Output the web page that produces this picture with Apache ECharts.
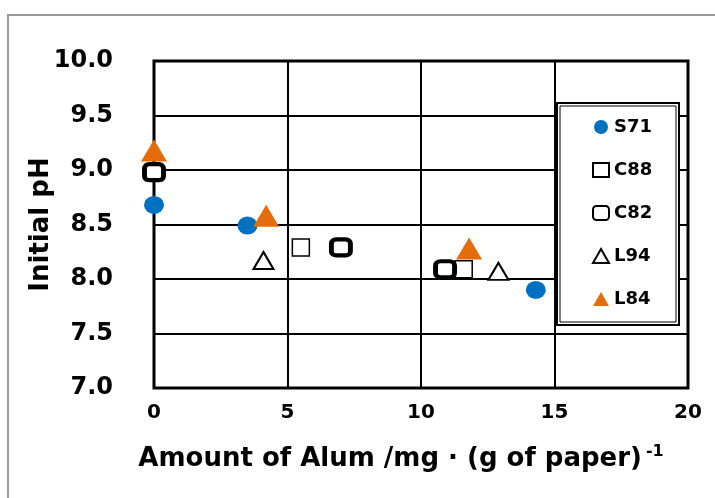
<!DOCTYPE html>
<html>
<head>
<meta charset="utf-8">
<script src="https://cdn.jsdelivr.net/npm/echarts@6/dist/echarts.min.js"></script>
<style>
  html, body { margin: 0; padding: 0; background: #fff; }
  #main { width: 715px; height: 498px; }
</style>
</head>
<body>
<div id="main"></div>
<script>
// values
var seriesNames = ['S71', 'C88', 'C82', 'L94', 'L84'];
var xS71 = [0, 3.5, 14.3];
var yS71 = [8.68, 8.49, 7.9];
var xC88 = [0, 5.5, 11.6];
var yC88 = [8.98, 8.29, 8.09];
var xC82 = [0, 7.0, 10.9];
var yC82 = [8.98, 8.29, 8.09];
var xL94 = [4.1, 12.9];
var yL94 = [8.17, 8.07];
var xL84 = [0, 4.2, 11.8];
var yL84 = [9.18, 8.58, 8.28];

function pairs(xs, ys) {
  return xs.map(function (x, i) { return [x, ys[i]]; });
}

var font = 'DejaVu Sans';
var chart = echarts.init(document.getElementById('main'));

var option = {
  animation: false,
  grid: { left: 154, right: 27, top: 61, bottom: 110, show: true, borderColor: '#000', borderWidth: 3, backgroundColor: '#fff' },
  graphic: [
    { type: 'rect', shape: { x: 8, y: 15, width: 800, height: 600 }, style: { fill: null, stroke: '#999', lineWidth: 2 }, z: -10 },
    { type: 'rect', shape: { x: 557, y: 103, width: 122, height: 222 }, style: { fill: '#fff', stroke: '#000', lineWidth: 2 }, z: 10 },
    { type: 'rect', shape: { x: 560, y: 106, width: 116, height: 216 }, style: { fill: null, stroke: '#000', lineWidth: 1 }, z: 11 }
  ],
  legend: {
    orient: 'vertical',
    left: 587,
    top: 113,
    itemWidth: 16,
    itemHeight: 14,
    itemGap: 25,
    z: 20,
    textStyle: { fontFamily: font, fontWeight: 'bold', fontSize: 18, color: '#000' },
    data: seriesNames
  },
  xAxis: {
    type: 'value', min: 0, max: 20, interval: 5,
    axisLine: { show: false },
    axisTick: { show: false },
    splitLine: { show: true, lineStyle: { color: '#000', width: 2 } },
    axisLabel: { fontFamily: font, fontWeight: 'bold', fontSize: 20, color: '#000', margin: 15 },
    name: 'Amount of Alum /mg · (g of paper){s|-1}',
    nameLocation: 'middle',
    nameGap: 56,
    nameMoveOverlap: false,
    nameTextStyle: {
      fontFamily: font, fontWeight: 'bold', fontSize: 26, color: '#000',
      padding: [0, 40, 0, 0],
      rich: { s: { fontFamily: font, fontWeight: 'bold', fontSize: 16, color: '#000', verticalAlign: 'top', padding: [0, 0, 14, 4] } }
    }
  },
  yAxis: {
    type: 'value', min: 7, max: 10, interval: 0.5,
    axisLine: { show: false },
    axisTick: { show: false },
    splitLine: { show: true, lineStyle: { color: '#000', width: 2 } },
    axisLabel: {
      fontFamily: font, fontWeight: 'bold', fontSize: 24, color: '#000', margin: 41,
      formatter: function (v) { return v.toFixed(1); }
    },
    name: 'Initial pH',
    nameLocation: 'middle',
    nameGap: 100,
    nameMoveOverlap: false,
    nameTextStyle: { fontFamily: font, fontWeight: 'bold', fontSize: 26, color: '#000' }
  },
  series: [
    { name: 'S71', type: 'scatter', symbol: 'circle', symbolSize: [20, 18],
      itemStyle: { color: '#0070C0', opacity: 1 }, data: pairs(xS71, yS71) },
    { name: 'C88', type: 'scatter', symbol: 'rect', symbolSize: [17, 17],
      itemStyle: { color: '#fff', borderColor: '#000', borderWidth: 1.5, opacity: 1 }, data: pairs(xC88, yC88) },
    { name: 'C82', type: 'scatter', symbol: 'roundRect', symbolSize: [19, 16],
      itemStyle: { color: '#fff', borderColor: '#000', borderWidth: 4.5, opacity: 1 }, data: pairs(xC82, yC82) },
    { name: 'L94', type: 'scatter', symbol: 'triangle', symbolSize: [20, 17],
      itemStyle: { color: '#fff', borderColor: '#000', borderWidth: 2, opacity: 1 }, data: pairs(xL94, yL94) },
    { name: 'L84', type: 'scatter', symbol: 'triangle', symbolSize: [26, 22],
      itemStyle: { color: '#E46C0A', opacity: 1 }, data: pairs(xL84, yL84) }
  ]
};
chart.setOption(option);
</script>
</body>
</html>
